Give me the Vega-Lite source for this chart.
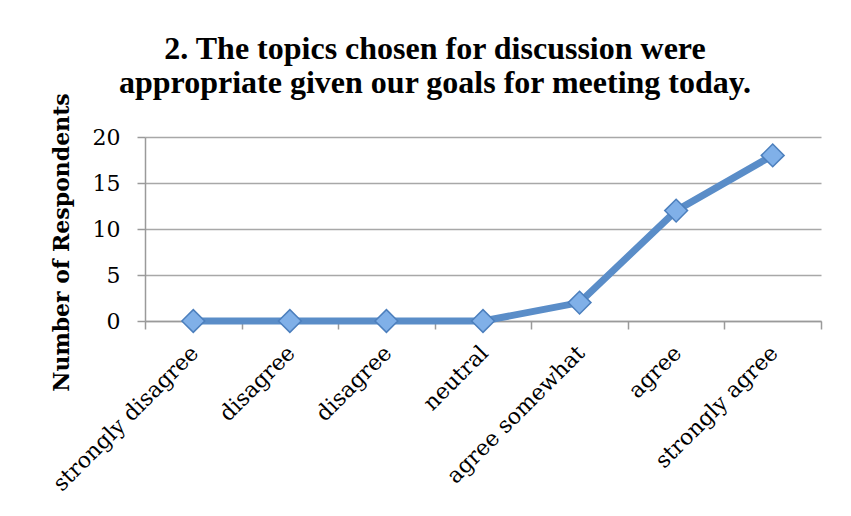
{
  "$schema": "https://vega.github.io/schema/vega-lite/v6.json",
  "autosize": {"type": "none"},
  "padding": {"left": 145, "top": 137, "right": 30, "bottom": 195},
  "width": 676,
  "height": 184,
  "background": "white",
  "title": {
    "text": ["2. The topics chosen for discussion were", "appropriate given our goals for meeting today."],
    "font": "Liberation Serif",
    "fontSize": 32,
    "fontWeight": "bold",
    "color": "black",
    "lineHeight": 34,
    "anchor": "middle",
    "dx": -48,
    "dy": 29,
    "offset": 22
  },
  "config": {
    "view": {"stroke": null},
    "axis": {"domainColor": "#9a9a9a", "tickColor": "#9a9a9a", "gridColor": "#a8a8a8", "domainWidth": 1.5, "tickWidth": 1.5, "gridWidth": 1.5, "labelColor": "black", "titleColor": "black"}
  },
  "data": {
    "values": [
      {"pos": 0.5, "response": "strongly disagree", "count": 0},
      {"pos": 1.5, "response": "disagree", "count": 0},
      {"pos": 2.5, "response": "disagree", "count": 0},
      {"pos": 3.5, "response": "neutral", "count": 0},
      {"pos": 4.5, "response": "agree somewhat", "count": 2},
      {"pos": 5.5, "response": "agree", "count": 12},
      {"pos": 6.5, "response": "strongly agree", "count": 18}
    ]
  },
  "encoding": {
    "x": {
      "field": "pos",
      "type": "quantitative",
      "scale": {"domain": [0, 7], "nice": false, "zero": false},
      "axis": {
        "title": null,
        "grid": false,
        "values": [0, 0.5, 1, 1.5, 2, 2.5, 3, 3.5, 4, 4.5, 5, 5.5, 6, 6.5, 7],
        "tickSize": 8,
        "tickOpacity": {"expr": "datum.value % 1 === 0 ? 1 : 0"},
        "labelExpr": "datum.value % 1 === 0 ? '' : ['strongly disagree','disagree','disagree','neutral','agree somewhat','agree','strongly agree'][floor(datum.value)]",
        "labelAngle": -45,
        "labelAlign": "right",
        "labelBaseline": "middle",
        "labelFont": "DejaVu Serif",
        "labelFontSize": 22,
        "labelPadding": 20,
        "labelOffset": 1,
        "labelLimit": 0,
        "labelOverlap": false,
        "labelBound": false,
        "labelFlush": false
      }
    },
    "y": {
      "field": "count",
      "type": "quantitative",
      "scale": {"domain": [0, 20], "nice": false},
      "axis": {
        "title": "Number of Respondents",
        "titleFont": "DejaVu Serif",
        "titleFontSize": 22,
        "titleFontWeight": "bold",
        "titleAngle": -90,
        "titleAlign": "center",
        "titleBaseline": "alphabetic",
        "titleX": -77,
        "titleY": 105,
        "values": [0, 5, 10, 15, 20],
        "tickSize": 8,
        "labelFont": "DejaVu Serif",
        "labelFontSize": 22,
        "labelPadding": 17
      }
    }
  },
  "layer": [
    {"mark": {"type": "line", "color": "#5A8DC8", "strokeWidth": 7}},
    {"mark": {"type": "point", "shape": "diamond", "filled": true, "size": 520, "fill": "#80B0E8", "stroke": "#4C7FBD", "strokeWidth": 1.5, "opacity": 1}}
  ]
}
